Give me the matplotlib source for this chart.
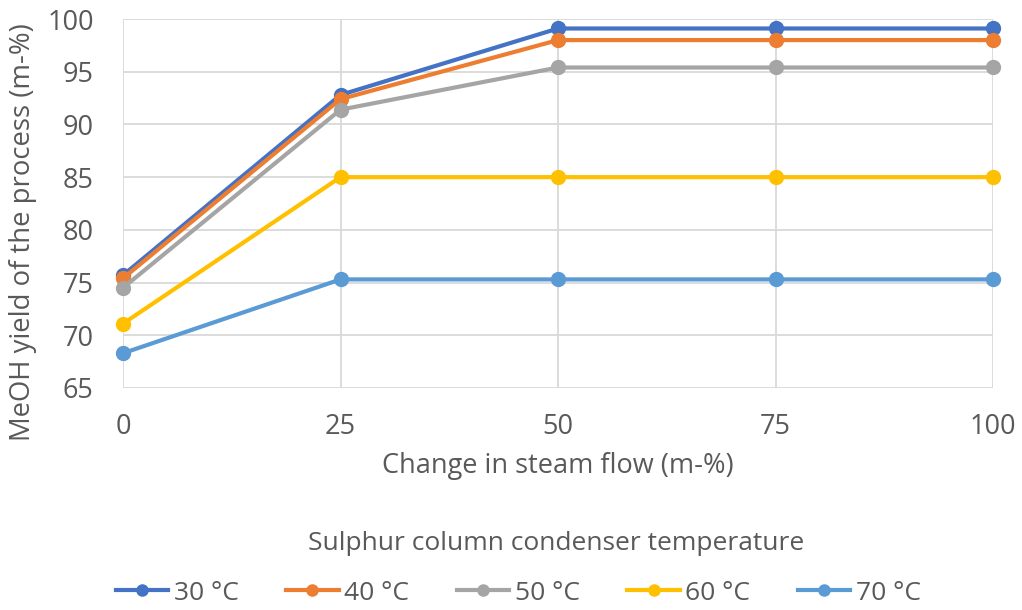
import matplotlib.pyplot as plt

plt.rcParams['font.family'] = ['Open Sans', 'DejaVu Sans']

steam = [0, 25, 50, 75, 100]
labels = ['30 °C', '40 °C', '50 °C', '60 °C', '70 °C']
colors = ['#4472C4', '#ED7D31', '#A5A5A5', '#FFC000', '#5B9BD5']
yield_30 = [75.7, 92.8, 99.1, 99.1, 99.1]
yield_40 = [75.4, 92.4, 98.0, 98.0, 98.0]
yield_50 = [74.5, 91.4, 95.4, 95.4, 95.4]
yield_60 = [71.1, 85.0, 85.0, 85.0, 85.0]
yield_70 = [68.3, 75.3, 75.3, 75.3, 75.3]
series = [yield_30, yield_40, yield_50, yield_60, yield_70]

grey = '#595959'
fs = 19.5

fig = plt.figure(figsize=(10.22, 6.1), dpi=100)
ax = fig.add_axes([123/1022, 1 - 388/610, (993-123)/1022, (388-19)/610])

for vals, lab, c in zip(series, labels, colors):
    ax.plot(steam, vals, color=c, linewidth=3, marker='o', markersize=10,
            label=lab, clip_on=False, zorder=3)

ax.set_xlim(0, 100)
ax.set_ylim(65, 100)
ax.set_xticks(steam)
ax.set_yticks(range(65, 101, 5))
ax.grid(True, color='#d9d9d9', linewidth=1.3)
ax.set_axisbelow(True)
for s in ax.spines.values():
    s.set_visible(False)
ax.tick_params(axis='x', length=0, labelsize=fs, colors=grey, pad=18)
ax.tick_params(axis='y', length=0, labelsize=fs, colors=grey, pad=21)

ax.set_xlabel('Change in steam flow (m-%)', fontsize=fs, color=grey, labelpad=8)
ax.set_ylabel('MeOH yield of the process (m-%)', fontsize=19.8, color=grey,
              va='center', ha='center')
# label sits a bit below the axes centre, as in the original layout
ax.yaxis.set_label_coords(-100/870, 1 - 213/369)

fig.text(556/1022, 1 - 543/610, 'Sulphur column condenser temperature',
         fontsize=19, color=grey, ha='center', va='center')
leg = fig.legend(loc='center', bbox_to_anchor=(0.507, 1 - 593/610), ncol=5,
                 frameon=False, fontsize=19, handlelength=2.0,
                 columnspacing=1.8, handletextpad=0.2, markerscale=0.8)
for t in leg.get_texts():
    t.set_color(grey)

fig.savefig('out.png', dpi=100)
